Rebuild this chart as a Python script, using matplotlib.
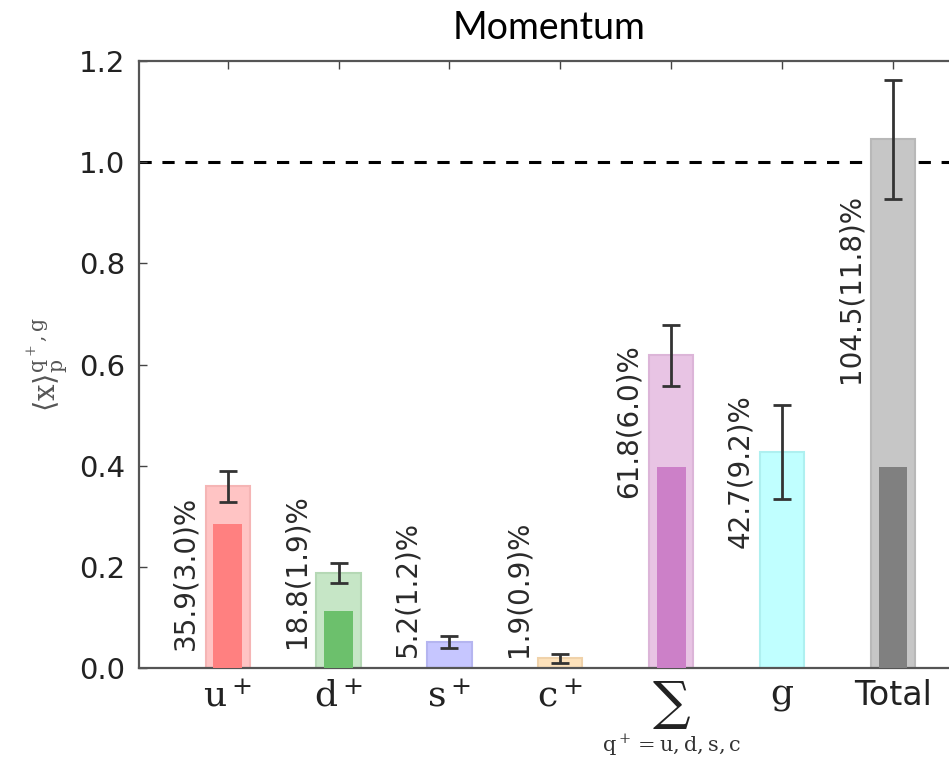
import numpy as np
from matplotlib import pyplot as plt

plt.rcParams["mathtext.fontset"] = "dejavuserif"

# -------------------------------------------------
# Data: momentum fractions per parton
# -------------------------------------------------
partons = ["u", "d", "s", "c", "sum", "g", "Total"]
tick_labels = [r"$\mathrm{u}^+$", r"$\mathrm{d}^+$", r"$\mathrm{s}^+$",
               r"$\mathrm{c}^+$", "\u2211", r"$\mathrm{g}$", "Total"]
momentum = [0.359, 0.188, 0.052, 0.019, 0.618, 0.427, 1.045]
momentum_err = [0.030, 0.019, 0.012, 0.009, 0.060, 0.092, 0.118]
# connected insertion part (darker inner bars), 0 = not drawn
connected = [0.285, 0.113, 0.0, 0.0, 0.398, 0.0, 0.398]

# -------------------------------------------------
# Styling
# -------------------------------------------------
outer_colors = ["#ffc4c4", "#c6e6c6", "#c6c6ff", "#fde2bb",
                "#e8c4e4", "#c0ffff", "#c6c6c6"]
edge_colors = ["#f5b5b5", "#b5d8b5", "#b5b5f0", "#f0d2aa",
               "#dcb5d8", "#aef0f0", "#b8b8b8"]
inner_colors = ["#ff8080", "#6cc06c", "#9999ff", "#ffc070",
                "#cc80c8", "#80ffff", "#808080"]
label_base = [0.036, 0.040, 0.022, 0.022, 0.337, 0.237, 0.564]

x = np.arange(1, len(partons) + 1)

fig = plt.figure(figsize=(9.49, 7.59), dpi=100)
ax = fig.add_axes([0.1465, 0.1199, 0.8645, 0.7997])

# outer bars = total per parton
ax.bar(x, momentum, width=0.40, color=outer_colors,
       edgecolor=edge_colors, linewidth=1.5, zorder=2)

# inner bars = connected insertion
for xi, c, col in zip(x, connected, inner_colors):
    if c > 0:
        ax.bar(xi, c, width=0.26, color=col, linewidth=0, zorder=3)

ax.errorbar(x, momentum, yerr=momentum_err, fmt="none", ecolor="#333333",
            elinewidth=2, capsize=6.5, capthick=2, zorder=4)

# momentum sum rule
ax.axhline(1.0, color="black", linewidth=2.2, linestyle=(0, (4, 3.5)),
           zorder=1)

# percentage labels next to each bar
for xi, v, e, yb in zip(x, momentum, momentum_err, label_base):
    ax.text(xi - 0.38, yb, f"{v * 100:.1f}({e * 100:.1f})%",
            rotation=90, ha="center", va="bottom", fontsize=20,
            color="#2a2a2a", zorder=5)

# ------------- Axes ---------------
ax.set_xlim(0.2, 7.6)
ax.set_ylim(0.0, 1.2)
yt = np.arange(0.0, 1.21, 0.2)
ax.set_yticks(yt)
ax.set_yticklabels([f"{t:.1f}" for t in yt])
ax.set_xticks(x)
ax.set_xticklabels(tick_labels)

for i, lbl in enumerate(ax.get_xticklabels()):
    lbl.set_color("#222222")
    lbl.set_fontsize(24 if partons[i] == "Total" else 26)
sum_lbl = ax.get_xticklabels()[4]
sum_lbl.set_fontsize(38)
sum_lbl.set_family("DejaVu Serif")

ax.tick_params(axis="both", direction="in", top=True, right=True,
               length=6, width=1, color="#444444")
ax.tick_params(axis="y", labelsize=21, pad=10, labelcolor="#222222")
ax.tick_params(axis="x", pad=8)

for sp in ax.spines.values():
    sp.set_color("#555555")
    sp.set_linewidth(1.6)

# summation range under the sum symbol
ax.text(x[4], -0.152, r"$\mathrm{q}^+ = \mathrm{u, d, s, c}$",
        ha="center", va="center", fontsize=15, color="#333333",
        clip_on=False)

ax.set_ylabel(r"$\langle\mathrm{x}\rangle_\mathrm{p}^{\mathrm{q}^+,\mathrm{g}}$",
              fontsize=21, color="#555555", labelpad=6)

ax.set_title("Momentum", fontsize=27, family="Lato", pad=16)

fig.savefig("out.png", dpi=100)
